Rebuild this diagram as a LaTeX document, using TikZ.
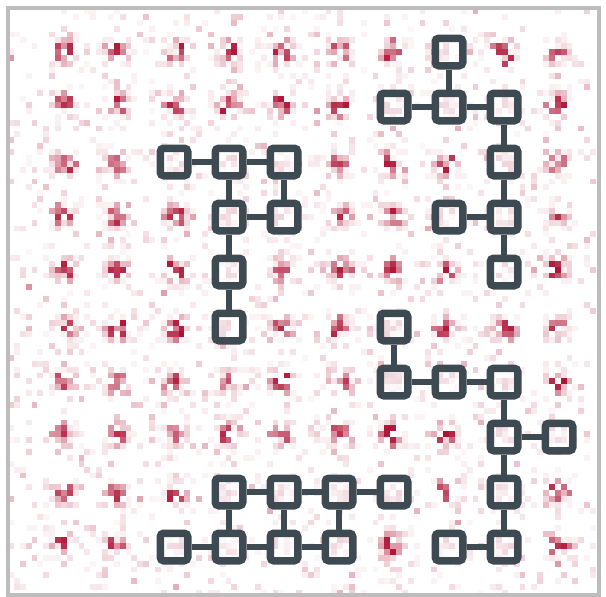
\documentclass[tikz,border=0pt]{standalone}
\usepackage{xcolor}
\definecolor{slate}{HTML}{3E4A52}
\definecolor{heat}{HTML}{AE1234}
\definecolor{rim}{HTML}{BDBDBD}
\newcommand{\cs}{5.88}

\begin{document}
\begin{tikzpicture}[
    x=1pt, y=-1pt,
    site/.style={rectangle, draw=slate, line width=7.5pt, rounded corners=3.5pt,
      minimum size=27.5pt, inner sep=0pt, fill=white, fill opacity=0.82},
    link/.style={draw=slate, line width=6pt},
    frame/.style={draw=rim, line width=4pt},
    cell/.style={fill=heat},
  ]
    \useasboundingbox (0,0) rectangle (606,597);
    \pgfmathsetseed{7}
    % heat map
    \begin{scope}
      \clip (8,8) rectangle (598,593);
      % faint background noise
      \foreach \k in {1,...,1700} {
        \pgfmathsetmacro\px{8+\cs*floor(100*rnd)}
        \pgfmathsetmacro\py{8+\cs*floor(100*rnd)}
        \pgfmathsetmacro\op{0.04+0.3*rnd*rnd}
        \fill[cell, opacity=\op] (\px,\py) rectangle ++(\cs,\cs);
      }
      % spots on the lattice
      \foreach \i in {0,...,9} {
        \foreach \j in {0,...,9} {
          \pgfmathsetmacro\gx{round((61+55*\i-8)/\cs)}
          \pgfmathsetmacro\gy{round((49+55*\j-8)/\cs)}
          \pgfmathsetmacro\sw{0.55+0.45*rnd}
          \foreach \k in {1,...,20} {
            \pgfmathsetmacro\dx{round(2.6*rand)}
            \pgfmathsetmacro\dy{round(2.6*rand)}
            \pgfmathsetmacro\op{max(0.06,\sw*(1.0-0.24*(abs(\dx)+abs(\dy)))*rnd)}
            \fill[cell, opacity=\op] ({8+\cs*(\gx+\dx)},{8+\cs*(\gy+\dy)}) rectangle ++(\cs,\cs);
          }
          % dark core
          \foreach \k in {1,...,5} {
            \pgfmathsetmacro\dx{round(1.2*rand)}
            \pgfmathsetmacro\dy{round(1.2*rand)}
            \pgfmathsetmacro\op{\sw*(0.6+0.4*rnd)}
            \fill[cell, opacity=\op] ({8+\cs*(\gx+\dx)},{8+\cs*(\gy+\dy)}) rectangle ++(\cs,\cs);
          }
        }
      }
    \end{scope}
    \draw[frame] (7.5,7.5) rectangle (599,594.5);
    % top left tree
    \node[site] (a1) at (174,162) {};
    \node[site] (a2) at (229,162) {};
    \node[site] (a3) at (284,162) {};
    \node[site] (a4) at (229,217) {};
    \node[site] (a5) at (284,217) {};
    \node[site] (a6) at (229,272) {};
    \node[site] (a7) at (229,327) {};
    \draw[link] (a1) -- (a2);
    \draw[link] (a2) -- (a3);
    \draw[link] (a2) -- (a4);
    \draw[link] (a3) -- (a5);
    \draw[link] (a4) -- (a5);
    \draw[link] (a4) -- (a6);
    \draw[link] (a6) -- (a7);
    % top right tree
    \node[site] (b1) at (449,52) {};
    \node[site] (b2) at (394,107) {};
    \node[site] (b3) at (449,107) {};
    \node[site] (b4) at (504,107) {};
    \node[site] (b5) at (504,162) {};
    \node[site] (b6) at (449,217) {};
    \node[site] (b7) at (504,217) {};
    \node[site] (b8) at (504,272) {};
    \draw[link] (b1) -- (b3);
    \draw[link] (b2) -- (b3);
    \draw[link] (b3) -- (b4);
    \draw[link] (b4) -- (b5);
    \draw[link] (b5) -- (b7);
    \draw[link] (b6) -- (b7);
    \draw[link] (b7) -- (b8);
    % right tree
    \node[site] (c1) at (394,327) {};
    \node[site] (c2) at (394,382) {};
    \node[site] (c3) at (449,382) {};
    \node[site] (c4) at (504,382) {};
    \node[site] (c5) at (504,437) {};
    \node[site] (c6) at (559,437) {};
    \node[site] (c7) at (504,492) {};
    \node[site] (c8) at (449,547) {};
    \node[site] (c9) at (504,547) {};
    \draw[link] (c1) -- (c2);
    \draw[link] (c2) -- (c3);
    \draw[link] (c3) -- (c4);
    \draw[link] (c4) -- (c5);
    \draw[link] (c5) -- (c6);
    \draw[link] (c5) -- (c7);
    \draw[link] (c7) -- (c9);
    \draw[link] (c8) -- (c9);
    % bottom ladder
    \node[site] (d1) at (229,492) {};
    \node[site] (d2) at (284,492) {};
    \node[site] (d3) at (339,492) {};
    \node[site] (d4) at (394,492) {};
    \node[site] (d5) at (174,547) {};
    \node[site] (d6) at (229,547) {};
    \node[site] (d7) at (284,547) {};
    \node[site] (d8) at (339,547) {};
    \draw[link] (d1) -- (d2);
    \draw[link] (d2) -- (d3);
    \draw[link] (d3) -- (d4);
    \draw[link] (d5) -- (d6);
    \draw[link] (d6) -- (d7);
    \draw[link] (d7) -- (d8);
    \draw[link] (d1) -- (d6);
    \draw[link] (d2) -- (d7);
    \draw[link] (d3) -- (d8);
  \end{tikzpicture}
\end{document}
